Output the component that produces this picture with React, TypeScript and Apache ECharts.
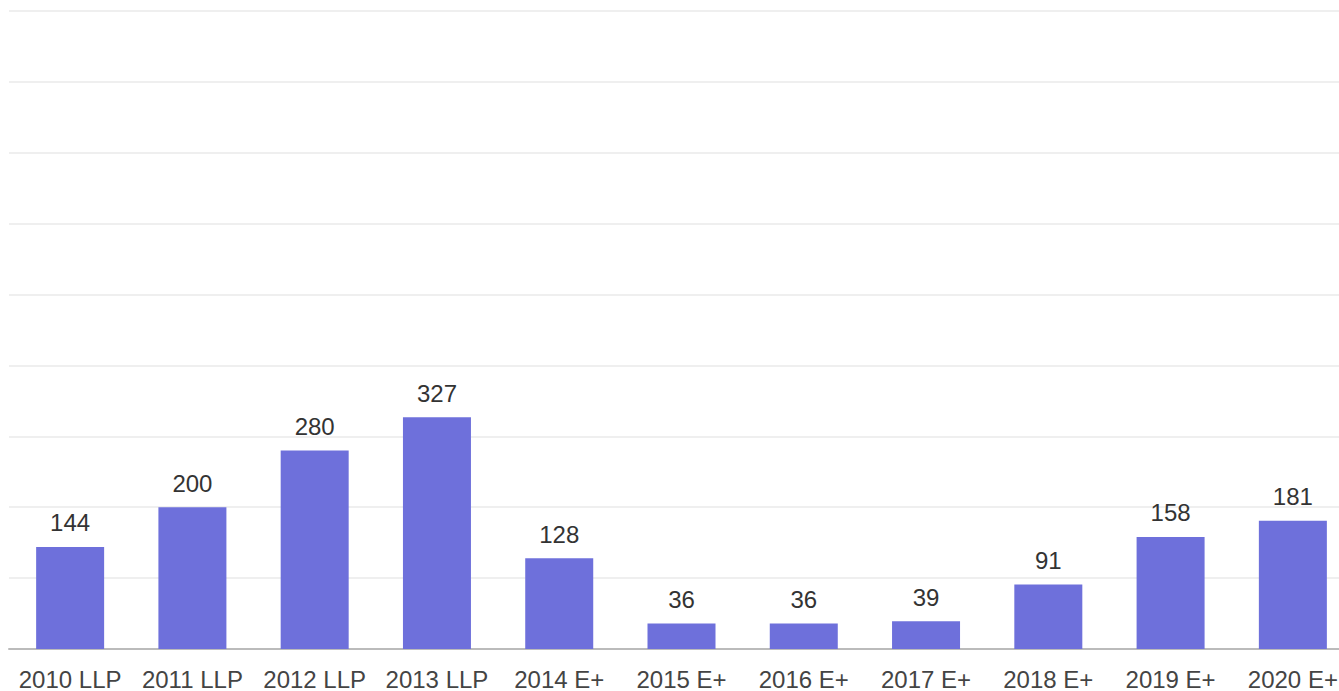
import React, { useEffect, useRef } from "react";
import * as echarts from "echarts";

const categories = ["2010 LLP", "2011 LLP", "2012 LLP", "2013 LLP", "2014 E+", "2015 E+", "2016 E+", "2017 E+", "2018 E+", "2019 E+", "2020 E+"];
const values = [144, 200, 280, 327, 128, 36, 36, 39, 91, 158, 181];
const yMax = 900;
const yInterval = 100;

export default function App() {
  const ref = useRef<HTMLDivElement>(null);
  useEffect(() => {
    document.body.style.margin = "0";
    document.body.style.overflow = "hidden";
    const chart = echarts.init(ref.current!, null, { renderer: "svg" });
    chart.setOption({
      animation: false,
      backgroundColor: "#ffffff",
      grid: { left: 9, right: 0, top: 11, bottom: 42, containLabel: false },
      xAxis: {
        type: "category",
        data: categories,
        axisTick: { show: false },
        axisLine: { lineStyle: { color: "#bbbbbb", width: 2 } },
        axisLabel: { color: "#444444", fontSize: 24, fontFamily: "Liberation Sans, Arial, sans-serif", margin: 18, interval: 0 },
      },
      yAxis: {
        type: "value",
        min: 0,
        max: yMax,
        interval: yInterval,
        axisLabel: { show: false },
        axisLine: { show: false },
        axisTick: { show: false },
        splitLine: { lineStyle: { color: "#efefef", width: 2 } },
      },
      series: [
        {
          type: "bar",
          data: values,
          barWidth: 68,
          itemStyle: { color: "#6e70db" },
          label: {
            show: true,
            position: "top",
            distance: 12,
            color: "#333333",
            fontSize: 24,
            fontFamily: "Liberation Sans, Arial, sans-serif",
          },
        },
      ],
    });
    return () => chart.dispose();
  }, []);
  return (
    <div style={{ position: "absolute", left: 0, top: 0, width: 1339, height: 691, overflow: "hidden" }}>
      <div ref={ref} style={{ width: 1354, height: 691 }} />
    </div>
  );
}
